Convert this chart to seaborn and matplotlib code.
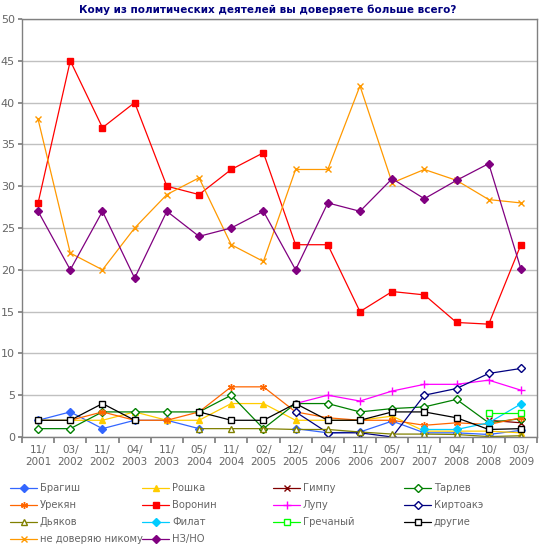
import numpy as np
import pandas as pd
import matplotlib
matplotlib.use("Agg")
import matplotlib.pyplot as plt
from matplotlib.lines import Line2D
import seaborn as sns

nan = np.nan

# survey dates
dates = ["11/\n2001", "03/\n2002", "11/\n2002", "04/\n2003", "11/\n2003", "05/\n2004",
         "11/\n2004", "02/\n2005", "12/\n2005", "04/\n2006", "11/\n2006", "05/\n2007",
         "11/\n2007", "04/\n2008", "10/\n2008", "03/\n2009"]

# % trust
bragish = [2, 3, 1, 2, 2, 1, nan, nan, 1, 0.5, 0.6, 1.9, 0.5, 0.5, 0.3, 0.8]
roshka = [2, 2, 2, 3, 2, 2, 4, 4, 2, 2, 2, 2.5, 0.7, 0.7, 0.7, 0.5]
gimpu = [nan] * 14 + [2.0, 1.7]
tarlev = [1, 1, 3, 3, 3, 3, 5, 1, 4, 4, 3, 3.4, 3.6, 4.5, 1.7, 2.2]
urekyan = [nan, 2, 3, 2, 2, 3, 6, 6, 3, 2.3, 2, 2, 1.4, 1.7, 1.5, 2.3]
voronin = [28, 45, 37, 40, 30, 29, 32, 34, 23, 23, 15, 17.4, 17, 13.7, 13.5, 23]
lupu = [nan] * 8 + [4, 5, 4.3, 5.5, 6.3, 6.3, 6.8, 5.6]
kirtoake = [nan] * 8 + [3, 0.5, 0.5, 0, 5, 5.8, 7.6, 8.2]
dyakov = [nan] * 5 + [1, 1, 1, 0.9, 0.9, 0.6, 0.35, 0.35, 0.3, 0.05, 0.15]
filat = [nan] * 12 + [0.9, 0.9, 1.7, 3.95]
grechany = [nan] * 14 + [2.9, 2.9]
drugie = [2, 2, 4, 2, nan, 3, 2, 2, 4, 2, 2, 3, 3, 2.3, 0.9, 1]
nobody = [38, 22, 20, 25, 29, 31, 23, 21, 32, 32, 42, 30.4, 32, 30.7, 28.4, 28]
nzno = [27, 20, 27, 19, 27, 24, 25, 27, 20, 28, 27, 30.9, 28.5, 30.7, 32.7, 20.1]

# name, values, color, marker, filled?, size
series = [
    ("Брагиш", bragish, "#3366FF", "D", True, 3.6),
    ("Рошка", roshka, "#FFCC00", "^", True, 4.6),
    ("Гимпу", gimpu, "#800000", "x", True, 4),
    ("Тарлев", tarlev, "#008000", "D", False, 3.8),
    ("Урекян", urekyan, "#FF6600", (6, 2, 0), True, 5),
    ("Воронин", voronin, "#FF0000", "s", True, 4.6),
    ("Лупу", lupu, "#FF00FF", "+", True, 6),
    ("Киртоакэ", kirtoake, "#000080", "D", False, 3.8),
    ("Дьяков", dyakov, "#808000", "^", False, 4.6),
    ("Филат", filat, "#00CCFF", "D", True, 3.6),
    ("Гречаный", grechany, "#00FF00", "s", False, 4.6),
    ("другие", drugie, "#000000", "s", False, 4.6),
    ("не доверяю никому", nobody, "#FF9900", "x", True, 4.2),
    ("НЗ/НО", nzno, "#800080", "D", True, 4),
]

sns.set_theme(style="white")
plt.rcParams["font.family"] = ["DejaVu Sans"]

fig = plt.figure(figsize=(5.4, 5.5), dpi=100)
ax = fig.add_axes([22 / 540, 1 - 437 / 550, 515 / 540, 418 / 550])

x = np.arange(len(dates))
handles = {}
for name, vals, col, mk, filled, ms in series:
    s = pd.Series(vals, index=x, dtype=float)
    ok = s.notna()
    run_id = (~ok).cumsum()
    style = dict(color=col, marker=mk, markersize=ms, linewidth=0.9,
                 markerfacecolor=col if filled else "white",
                 markeredgecolor=col, markeredgewidth=1.0)
    for _, part in s[ok].groupby(run_id[ok]):
        sns.lineplot(x=part.index.values, y=part.values, ax=ax, legend=False, **style)
    handles[name] = Line2D([], [], **style)

ax.set_xlim(-0.5, len(dates) - 0.5)
ax.set_ylim(0, 50)
ax.set_yticks(np.arange(0, 51, 5))
ax.yaxis.grid(True, color="#C0C0C0", linewidth=1)
ax.set_axisbelow(True)
for sp in ax.spines.values():
    sp.set_color("#808080")
    sp.set_linewidth(1)

ax.set_xticks(np.arange(-0.5, len(dates), 1))
ax.set_xticklabels([])
ax.set_xticks(x, minor=True)
ax.set_xticklabels(dates, minor=True)
ax.tick_params(axis="x", which="major", length=4, direction="out", color="#808080", bottom=True)
ax.tick_params(axis="x", which="minor", length=0, pad=6, labelsize=7.5, labelcolor="#666666")
ax.tick_params(axis="y", length=3, direction="out", color="#808080", left=True,
               pad=2, labelsize=8, labelcolor="#666666")
ax.set_xlabel("")
ax.set_ylabel("")

fig.text(268 / 540, 1 - 10 / 550, "Кому из политических деятелей вы доверяете больше всего?",
         ha="center", va="center", fontsize=7.5, fontweight="bold", color="#000080")

# legend, one column at a time
cols = [
    ["Брагиш", "Урекян", "Дьяков", "не доверяю никому"],
    ["Рошка", "Воронин", "Филат", "НЗ/НО"],
    ["Гимпу", "Лупу", "Гречаный"],
    ["Тарлев", "Киртоакэ", "другие"],
]
col_x = [10, 142, 273, 404]
for cx, names in zip(col_x, cols):
    fig.legend([handles[n] for n in names], names, loc="upper left",
               bbox_to_anchor=(cx / 540, 1 - 483 / 550), frameon=False,
               fontsize=7.2, handlelength=2.7, handletextpad=0.3,
               labelspacing=0.7, borderaxespad=0, borderpad=0,
               labelcolor="#666666")

fig.savefig("out.png", dpi=100)
